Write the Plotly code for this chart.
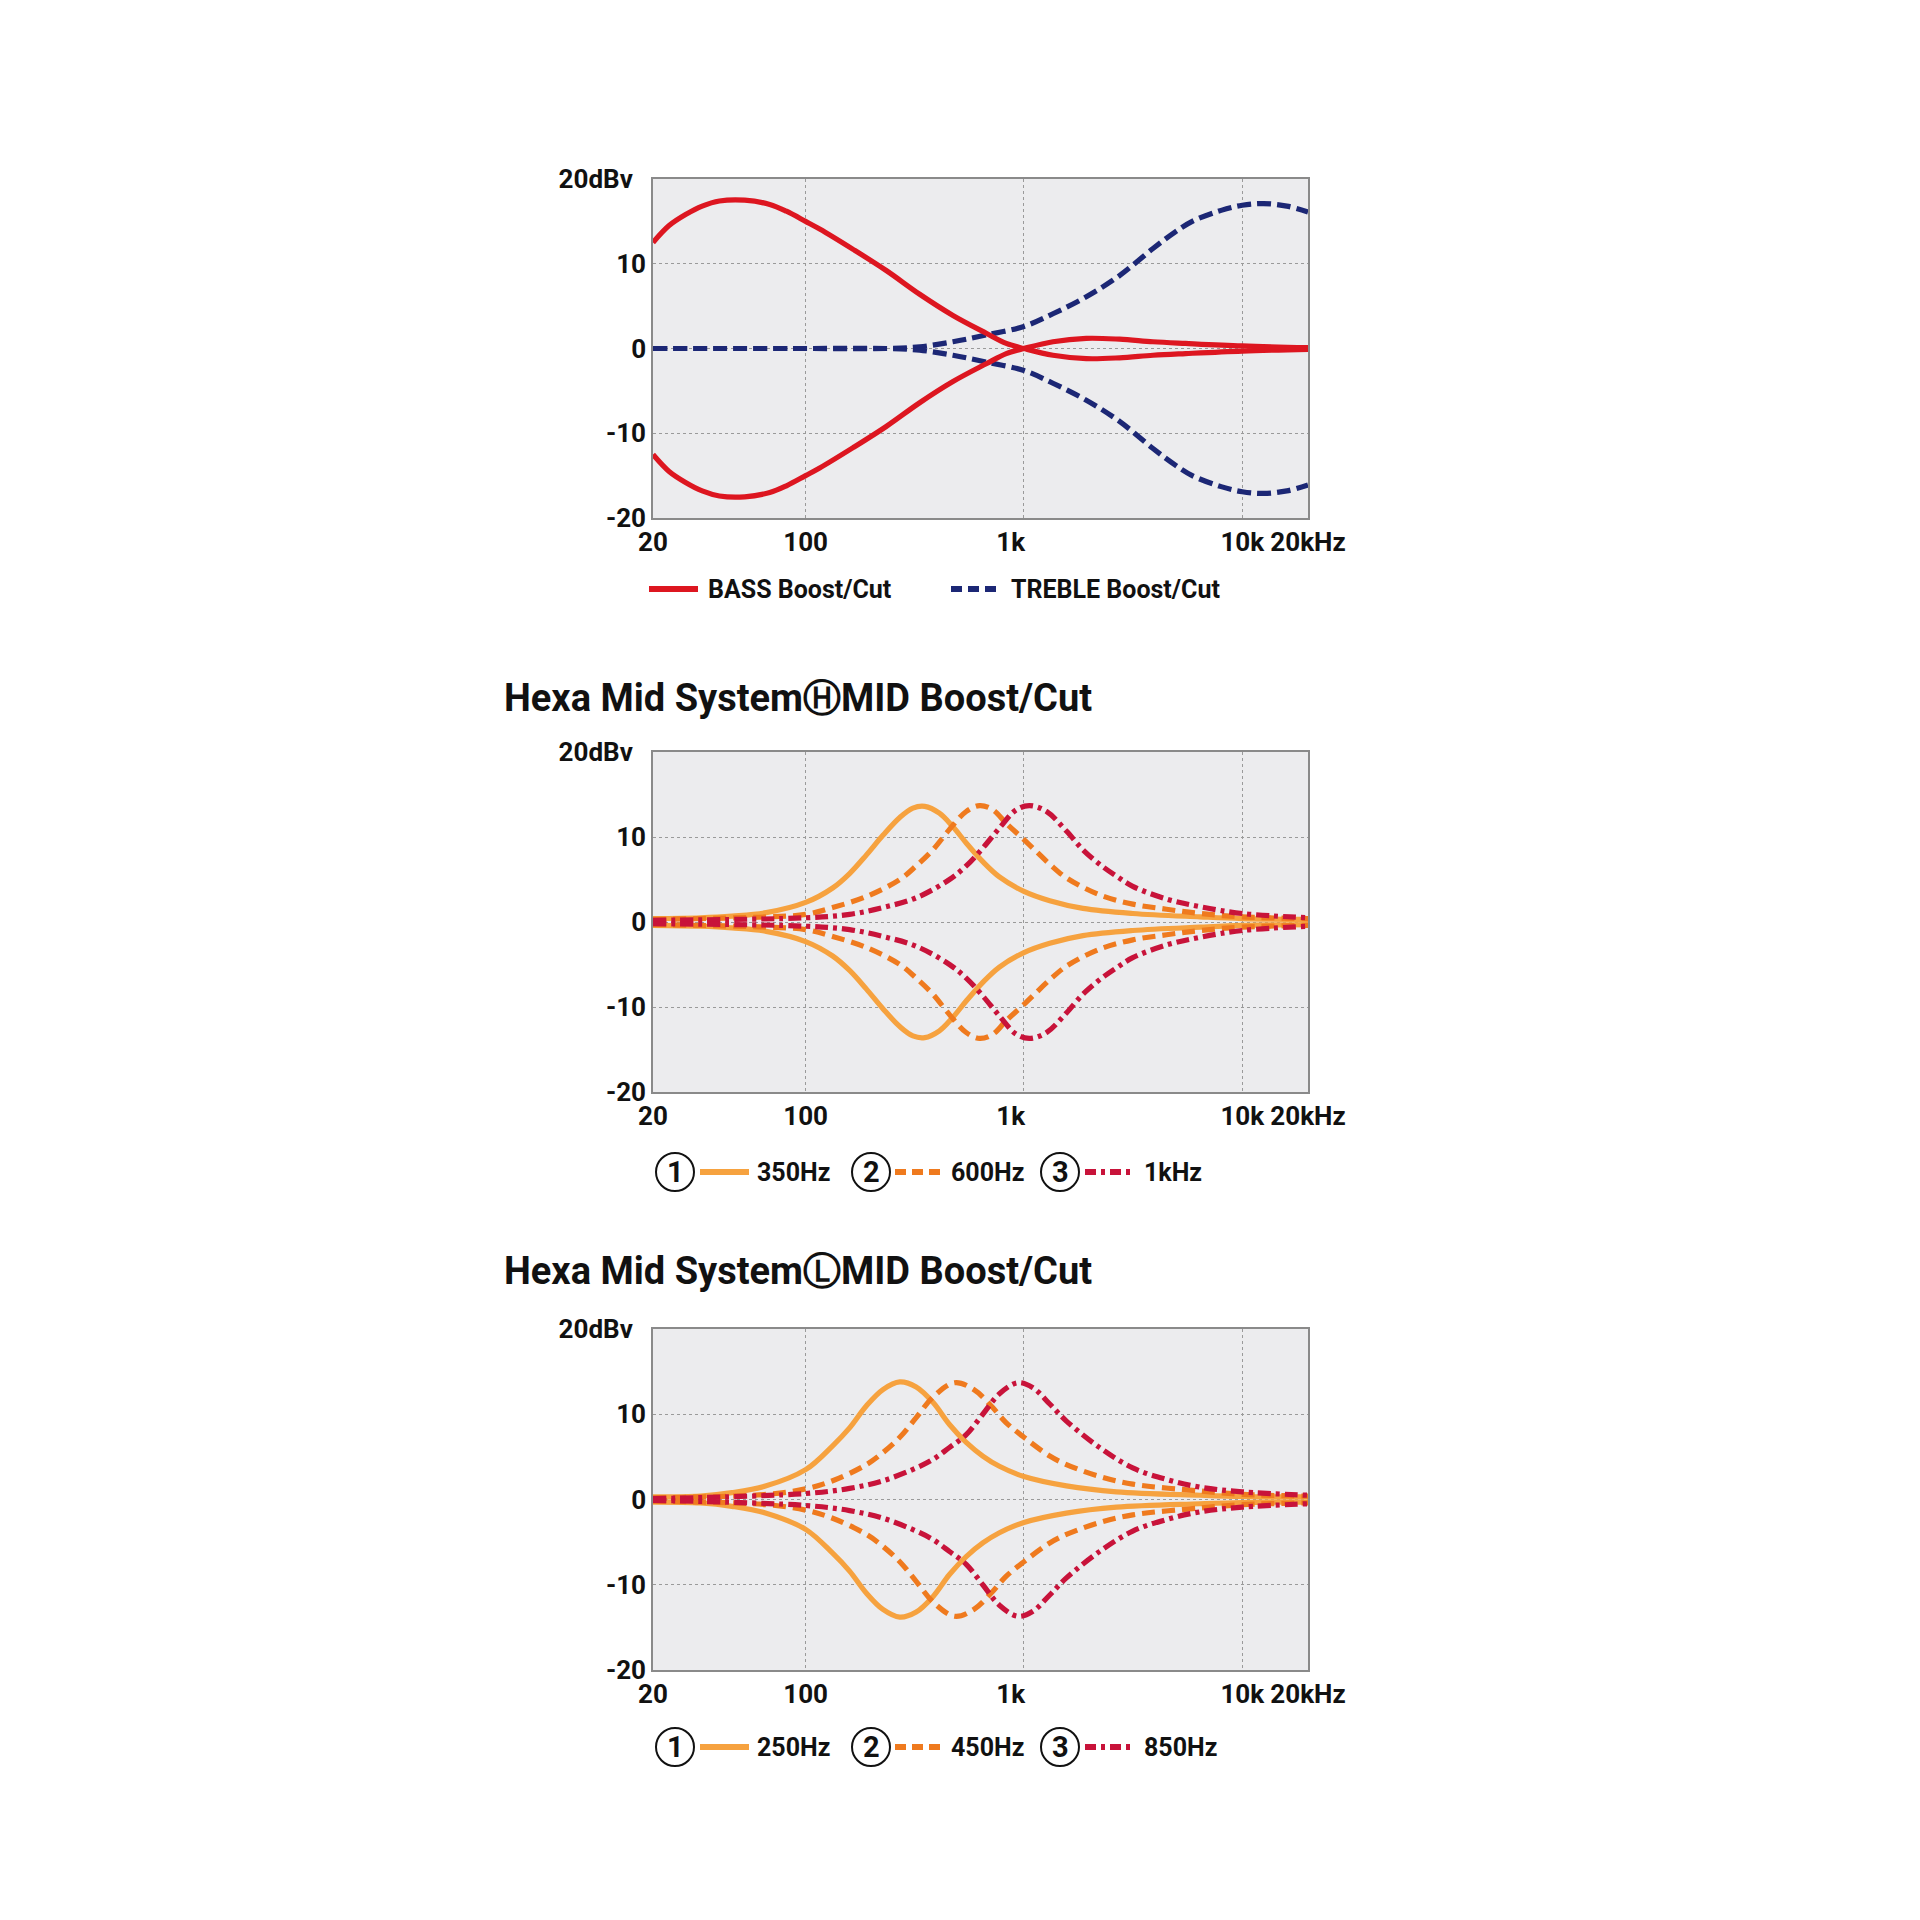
import math
import plotly.graph_objects as go

FONT = "Roboto, Liberation Sans, sans-serif"

# ---------------- data (frequency Hz, level dBv) ----------------
# Top chart: BASS / TREBLE boost & cut
bass_freq = [20, 23.7, 28.2, 33.6, 40.3, 52.6, 68.5, 81.7, 100, 116, 165, 234, 333, 473, 672, 830,
             1000, 1358, 1930, 2740, 3900, 5500, 10000, 20000]
bass_boost = [12.5, 14.5, 15.8, 16.8, 17.4, 17.5, 17.0, 16.2, 15.0, 14.1, 11.7, 9.2, 6.4, 3.9, 1.8, 0.6,
              0.0, -0.8, -1.2, -1.1, -0.8, -0.6, -0.3, -0.1]
bass_cut = [-12.5, -14.5, -15.8, -16.8, -17.4, -17.5, -17.0, -16.2, -15.0, -14.1, -11.7, -9.2, -6.4, -3.9, -1.8, -0.6,
            0.0, 0.8, 1.2, 1.1, 0.8, 0.6, 0.3, 0.1]

treble_freq = [20, 100, 234, 333, 473, 672, 1000, 1358, 1930, 2740, 3900, 4900, 5900, 8000, 10000, 12500, 16000, 20000]
treble_boost = [0.0, 0.0, 0.0, 0.2, 0.8, 1.6, 2.6, 4.1, 6.1, 8.6, 11.8, 13.7, 15.0, 16.3, 16.9, 17.1, 16.8, 16.1]
treble_cut = [0.0, 0.0, 0.0, -0.2, -0.8, -1.6, -2.6, -4.1, -6.1, -8.6, -11.8, -13.7, -15.0, -16.3, -16.9, -17.1, -16.8, -16.1]

# Hexa Mid System (H): 350Hz / 600Hz / 1kHz
h1_freq = [20, 33, 46, 66, 100, 133, 159, 190, 226, 270, 310, 351, 410, 473, 544, 648, 772, 1000,
           1313, 1863, 3150, 6400, 10000, 20000]
h1_boost = [0.4, 0.5, 0.7, 1.1, 2.3, 4.0, 5.7, 7.9, 10.2, 12.3, 13.4, 13.6, 12.8, 11.2, 9.3, 7.1, 5.3, 3.6,
            2.5, 1.6, 1.0, 0.6, 0.4, 0.3]
h1_cut = [-0.4, -0.5, -0.7, -1.1, -2.3, -4.0, -5.7, -7.9, -10.2, -12.3, -13.4, -13.6, -12.8, -11.2, -9.3, -7.1, -5.3, -3.6,
          -2.5, -1.6, -1.0, -0.6, -0.4, -0.3]

h2_freq = [20, 66, 100, 133, 190, 270, 321, 383, 456, 544, 627, 721, 830, 1000, 1313, 1565, 2220, 3150,
           4500, 6400, 10000, 20000]
h2_boost = [0.3, 0.6, 0.9, 1.7, 3.0, 5.0, 6.6, 8.5, 10.9, 13.0, 13.7, 13.2, 11.6, 9.7, 6.8, 5.2, 3.2, 2.1,
            1.5, 1.0, 0.6, 0.4]
h2_cut = [-0.3, -0.6, -0.9, -1.7, -3.0, -5.0, -6.6, -8.5, -10.9, -13.0, -13.7, -13.2, -11.6, -9.7, -6.8, -5.2, -3.2, -2.1,
          -1.5, -1.0, -0.6, -0.4]

h3_freq = [20, 100, 159, 226, 321, 456, 544, 648, 772, 922, 1060, 1270, 1565, 1863, 2220, 2650, 3150,
           4500, 6400, 10000, 20000]
h3_boost = [0.2, 0.5, 0.9, 1.7, 2.85, 5.0, 6.6, 8.7, 11.05, 13.2, 13.7, 13.0, 10.7, 8.5, 6.8, 5.4, 4.2,
            2.7, 1.8, 1.0, 0.5]
h3_cut = [-0.2, -0.5, -0.9, -1.7, -2.85, -5.0, -6.6, -8.7, -11.05, -13.2, -13.7, -13.0, -10.7, -8.5, -6.8, -5.4, -4.2,
          -2.7, -1.8, -1.0, -0.5]

# Hexa Mid System (L): 250Hz / 450Hz / 850Hz
l1_freq = [20, 33, 46, 66, 100, 133, 159, 190, 226, 270, 321, 383, 456, 544, 648, 772, 1000, 1565,
           2650, 6400, 10000, 20000]
l1_boost = [0.3, 0.4, 0.8, 1.6, 3.5, 6.3, 8.4, 11.0, 12.9, 13.8, 13.2, 11.4, 8.8, 6.7, 5.1, 3.9, 2.7, 1.6,
            0.9, 0.5, 0.35, 0.3]
l1_cut = [-0.3, -0.4, -0.8, -1.6, -3.5, -6.3, -8.4, -11.0, -12.9, -13.8, -13.2, -11.4, -8.8, -6.7, -5.1, -3.9, -2.7, -1.6,
          -0.9, -0.5, -0.35, -0.3]

l2_freq = [20, 66, 100, 133, 190, 226, 270, 321, 383, 482, 589, 707, 830, 1000, 1313, 1565, 2220, 3150,
           6400, 10000, 20000]
l2_boost = [0.2, 0.6, 1.25, 2.2, 4.1, 5.5, 7.3, 9.6, 12.0, 13.7, 12.9, 11.0, 9.0, 7.3, 5.1, 4.1, 2.7, 1.8,
            1.0, 0.6, 0.4]
l2_cut = [-0.2, -0.6, -1.25, -2.2, -4.1, -5.5, -7.3, -9.6, -12.0, -13.7, -12.9, -11.0, -9.0, -7.3, -5.1, -4.1, -2.7, -1.8,
          -1.0, -0.6, -0.4]

l3_freq = [20, 100, 159, 226, 321, 383, 456, 544, 648, 772, 939, 1100, 1313, 1565, 2220, 3150, 4500,
           6400, 10000, 20000]
l3_boost = [0.1, 0.7, 1.3, 2.2, 3.7, 4.7, 6.1, 7.6, 10.0, 12.4, 13.7, 13.1, 11.2, 9.2, 6.1, 3.7, 2.35,
            1.45, 0.9, 0.5]
l3_cut = [-0.1, -0.7, -1.3, -2.2, -3.7, -4.7, -6.1, -7.6, -10.0, -12.4, -13.7, -13.1, -11.2, -9.2, -6.1, -3.7, -2.35,
          -1.45, -0.9, -0.5]

x_tickvals = [20, 100, 1000, 10000, 20000]
x_ticktext = ["20", "100", "1k\u2003", "10k", "20kHz"]
y_tickvals = [-20, -10, 0, 10, 20]
y_ticktext = ["-20", "-10", "0", "10", "20dBv\u2002"]

top_legend = ["BASS Boost/Cut", "TREBLE Boost/Cut"]
h_legend = ["350Hz", "600Hz", "1kHz"]
l_legend = ["250Hz", "450Hz", "850Hz"]
circled = ["1", "2", "3"]
titles = ["Hexa Mid System\u24bdMID Boost/Cut", "Hexa Mid System\u24c1MID Boost/Cut"]

# ---------------- styles ----------------
RED = "#DD1620"
NAVY = "#1C2775"
OR1 = "#F6A23F"
OR2 = "#EF7A1E"
CRIM = "#C8133A"
LW = 5.2
DASH_NAVY = "14px,6px"
DASH = "13px,7px"
DASHDOT = "13px,5px,4px,5px"

W = H = 1920


def px(x):
    return x / W


def py(y):
    return 1 - y / H


fig = go.Figure()

panels = [
    dict(ax="", top=179, bottom=518),
    dict(ax="2", top=752, bottom=1092),
    dict(ax="3", top=1329, bottom=1670),
]
LEFT, RIGHT = 653, 1308


def add(xs, ys, color, dash, ax):
    fig.add_trace(go.Scatter(
        x=xs, y=ys, mode="lines", showlegend=False, hoverinfo="skip",
        line=dict(color=color, width=LW, dash=dash, shape="spline", smoothing=1.0),
        xaxis="x" + ax, yaxis="y" + ax,
    ))


# top
add(treble_freq, treble_boost, NAVY, DASH_NAVY, "")
add(treble_freq, treble_cut, NAVY, DASH_NAVY, "")
add(bass_freq, bass_boost, RED, "solid", "")
add(bass_freq, bass_cut, RED, "solid", "")
# H
for f, b, c, col, d in [(h1_freq, h1_boost, h1_cut, OR1, "solid"),
                        (h2_freq, h2_boost, h2_cut, OR2, DASH),
                        (h3_freq, h3_boost, h3_cut, CRIM, DASHDOT)]:
    add(f, b, col, d, "2")
    add(f, c, col, d, "2")
# L
for f, b, c, col, d in [(l1_freq, l1_boost, l1_cut, OR1, "solid"),
                        (l2_freq, l2_boost, l2_cut, OR2, DASH),
                        (l3_freq, l3_boost, l3_cut, CRIM, DASHDOT)]:
    add(f, b, col, d, "3")
    add(f, c, col, d, "3")

tickfont = dict(family=FONT, size=26, color="#111111", weight="bold")
axis_common = dict(showgrid=True, gridcolor="#9a9a9a", griddash="dot", gridwidth=1,
                   showline=True, mirror=True, linecolor="#8a8a8a", linewidth=1.5,
                   ticks="", tickfont=tickfont, zeroline=False, fixedrange=True,
                   automargin=False, tickangle=0, ticklabelstandoff=0)

layout = dict(
    width=W, height=H, margin=dict(l=0, r=0, t=0, b=0, autoexpand=False),
    paper_bgcolor="white", plot_bgcolor="#ECECEE",
    showlegend=False,
)
for p in panels:
    a = p["ax"]
    layout["xaxis" + a] = dict(type="log", range=[math.log10(20), math.log10(20000)],
                               domain=[px(LEFT), px(RIGHT)], anchor="y" + a,
                               tickvals=x_tickvals, ticktext=x_ticktext, **axis_common)
    layout["yaxis" + a] = dict(range=[-20, 20], domain=[py(p["bottom"]), py(p["top"])],
                               anchor="x" + a, tickvals=y_tickvals, ticktext=y_ticktext,
                               **axis_common)
fig.update_layout(**layout)

shapes = []
annots = []
lfont = dict(family=FONT, size=25, color="#111111", weight="bold")


def sample(x0, x1, y, color, dash, width=6):
    shapes.append(dict(type="line", xref="paper", yref="paper",
                       x0=px(x0), x1=px(x1), y0=py(y), y1=py(y),
                       line=dict(color=color, width=width, dash=dash)))


def label(x, y, text, font=lfont, anchor="left"):
    annots.append(dict(xref="paper", yref="paper", x=px(x), y=py(y), text=text,
                       showarrow=False, xanchor=anchor, yanchor="middle", font=font,
                       align=anchor if anchor != "center" else "center"))


# top legend
sample(649, 698, 589, RED, "solid")
label(706, 589, top_legend[0])
sample(951, 1000, 589, NAVY, "11px,6px")
label(1009, 589, top_legend[1])

# titles
tfont = dict(family=FONT, size=38, color="#111111", weight="bold")
label(502, 698, titles[0], tfont)
label(502, 1271, titles[1], tfont)

# mid legends
circ_x = [675, 871, 1060]
samp_x = [(700, 749), (895, 944), (1085, 1134)]
text_x = [755, 949, 1142]
cols = [OR1, OR2, CRIM]
dashes = ["solid", "11px,6px", "11px,5px,4px,5px"]
nfont = dict(family=FONT, size=29, color="#111111", weight="bold")
for yy, names in [(1172, h_legend), (1747, l_legend)]:
    for i in range(3):
        r = 19
        shapes.append(dict(type="circle", xref="paper", yref="paper",
                           x0=px(circ_x[i] - r), x1=px(circ_x[i] + r),
                           y0=py(yy + r), y1=py(yy - r),
                           line=dict(color="#111111", width=2), fillcolor="white"))
        label(circ_x[i], yy, circled[i], nfont, anchor="center")
        sample(samp_x[i][0], samp_x[i][1], yy, cols[i], dashes[i])
        label(text_x[i], yy, names[i])

fig.update_layout(shapes=shapes, annotations=annots)
fig.write_html("out.html")
